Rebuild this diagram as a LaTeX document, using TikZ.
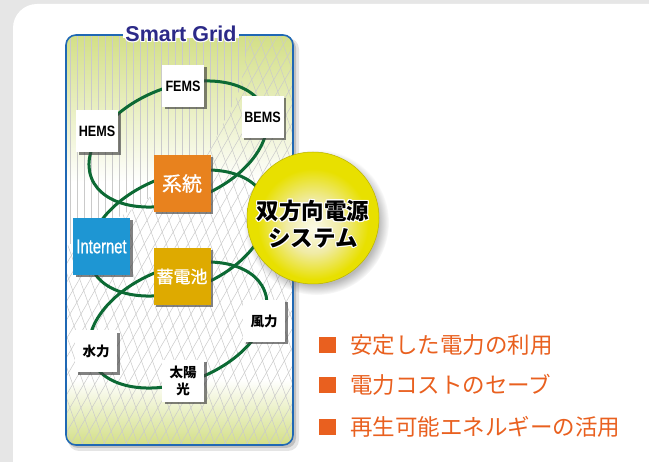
\documentclass[tikz,border=0pt]{standalone}
\usepackage{fontspec}
\setmainfont{Liberation Sans}
\newfontfamily\jp{Noto Sans CJK JP}
\newfontfamily\jpm{Noto Sans CJK JP}[FakeBold=0.9]
\newfontfamily\condA{Liberation Sans}[FakeStretch=0.84]
\newfontfamily\condB{Liberation Sans}[FakeStretch=0.74, FakeBold=0.7]
\usetikzlibrary{shadows}
\definecolor{bggray}{HTML}{E6E6E6}
\definecolor{boxblue}{HTML}{1F68B4}
\definecolor{navy}{HTML}{2C2A88}
\definecolor{ygreen}{HTML}{D3DF86}
\definecolor{ringgreen}{HTML}{0C6A34}
\definecolor{keitoorange}{HTML}{E8821E}
\definecolor{netblue}{HTML}{1E96D3}
\definecolor{battgold}{HTML}{DEAA00}
\definecolor{bulletorange}{HTML}{E9601F}
\definecolor{ballin}{HTML}{FCFBE8}
\definecolor{ballmid}{HTML}{F0EBA6}
\definecolor{ballrim}{HTML}{E8E000}
\definecolor{meshgray}{HTML}{CACACA}
\pgfdeclareverticalshading{boxshade}{100bp}{color(0bp)=(ygreen); color(25bp)=(ygreen); color(33bp)=(white); color(57bp)=(white); color(75bp)=(ygreen); color(100bp)=(ygreen)}
\pgfdeclareradialshading{ballshade}{\pgfpoint{0bp}{-4bp}}{color(0bp)=(ballin); color(10bp)=(ballmid); color(21bp)=(ballrim); color(29bp)=(ballrim); color(50bp)=(ballrim)}
\newcommand\haloline[2][white]{%
  \leavevmode
  \rlap{\textcolor{#1}{\kern1.1pt#2}}%
  \rlap{\textcolor{#1}{\kern-1.1pt#2}}%
  \rlap{\textcolor{#1}{\raisebox{1.1pt}{#2}}}%
  \rlap{\textcolor{#1}{\raisebox{-1.1pt}{#2}}}%
  \rlap{\textcolor{#1}{\kern.8pt\raisebox{.8pt}{#2}}}%
  \rlap{\textcolor{#1}{\kern-.8pt\raisebox{.8pt}{#2}}}%
  \rlap{\textcolor{#1}{\kern.8pt\raisebox{-.8pt}{#2}}}%
  \rlap{\textcolor{#1}{\kern-.8pt\raisebox{-.8pt}{#2}}}%
  #2}
\tikzset{
  boxshadow/.style={drop shadow={shadow xshift=2.5pt, shadow yshift=-2.5pt, fill=black!75, opacity=.65}},
  wbox/.style={fill=white, minimum width=42pt, minimum height=42pt, inner sep=0pt, text=black, boxshadow},
  cbox/.style={minimum width=57pt, minimum height=57pt, inner sep=0pt, text=white, boxshadow},
  latlab/.style={font={\condA\bfseries\fontsize{15}{15}\selectfont}},
  jplab/.style={font={\jp\bfseries\fontsize{13.5}{16.5}\selectfont}},
  ring/.style={ringgreen, line width=3pt},
  mesh/.style={meshgray, line width=.5pt},
  bsq/.style={fill=bulletorange, minimum width=17pt, minimum height=16pt, inner sep=0pt},
  btext/.style={text=bulletorange, font={\jp\fontsize{22.5}{22.5}\selectfont}, inner sep=0pt, anchor=west}
}
\begin{document}
\begin{tikzpicture}[x=1pt,y=-1pt]
\useasboundingbox (0,0) rectangle (649,462);
\fill[bggray] (0,0) rectangle (649,462);
\fill[white, rounded corners=24pt] (13,4) rectangle (690,490);
% grid box shadow and fill
\fill[black, opacity=.10, rounded corners=11pt] (68,38) rectangle (299,451);
\fill[black, opacity=.16, rounded corners=10pt] (68,38) rectangle (296,448);
\shade[shading=boxshade, rounded corners=10pt] (66,35) rectangle (293,445);
% mesh lines
\begin{scope}
  \clip[rounded corners=10pt] (66,35) rectangle (293,445);
  \begin{scope}
    \clip (60,30) -- (250,30) -- (240,90) -- (210,150) -- (140,205) -- (60,250) -- cycle;
    \foreach \x in {70,77,...,250} \draw[mesh] (\x,35) -- (\x,300);
  \end{scope}
  \begin{scope}
    \clip (250,30) -- (300,30) -- (300,450) -- (60,450) -- (60,250) -- (140,205) -- (210,150) -- (240,90) -- cycle;
    \foreach \x in {-260,-249,...,300} \draw[mesh] (\x,445) -- ++(241,-410);
    \foreach \x in {-160,-149,...,300} \draw[mesh] (\x,35) -- ++(144,410);
  \end{scope}
\end{scope}
\draw[boxblue, line width=1.6pt, rounded corners=10pt] (66,35) rectangle (293,445);
\fill[white] (123,32.5) rectangle (239,37.8);
% rings
\foreach \cy in {144,233,325}
  \draw[ring, rotate around={21.5:(178,\cy)}] (178,\cy) ellipse [x radius=93, y radius=57];
% nodes
\node[wbox, latlab] (fems) at (183,86) {FEMS};
\node[wbox, latlab] (hems) at (97,131.5) {HEMS};
\node[wbox, latlab] (bems) at (262.5,117) {BEMS};
\node[cbox, fill=keitoorange, font={\jpm\fontsize{20}{20}\selectfont}] (keito) at (182,183.5) {系統};
\node[cbox, fill=netblue, font={\condB\fontsize{20}{20}\selectfont}] (net) at (101.5,246.5) {Internet};
\node[cbox, fill=battgold, font={\jpm\fontsize{17}{17}\selectfont}] (batt) at (182,276.5) {蓄電池};
\node[wbox, jplab] (wind) at (264,321) {風力};
\node[wbox, jplab] (hydro) at (96,351.5) {水力};
\node[wbox, jplab, align=center] (solar) at (183,381) {太陽\\光};
% big circle
\node[circle, minimum size=132pt, inner sep=0pt, shade, shading=ballshade, draw=ballrim!80!black, line width=.5pt,
      circular drop shadow={shadow xshift=3pt, shadow yshift=-4pt, opacity=.45, fill=black!60}] (sys) at (313,218) {};
\node[font={\jp\bfseries\fontsize{22.5}{27}\selectfont}, align=center, text=black, inner sep=0pt] (systext) at (313,224)
  {\haloline{双方向電源}\\\haloline{システム}};
% title
\node[font={\bfseries\fontsize{21.5}{21.5}\selectfont}, text=navy, anchor=base, inner sep=0pt] (title) at (181,41.5) {\haloline{Smart Grid}};
% bullets
\foreach \i/\y/\t in {1/345/安定した電力の利用, 2/385/電力コストのセーブ, 3/427/再生可能エネルギーの活用} {
  \node[bsq] (b\i) at (327.5,\y) {};
  \node[btext] (t\i) at (350,\y) {\t};
}
\end{tikzpicture}
\end{document}
